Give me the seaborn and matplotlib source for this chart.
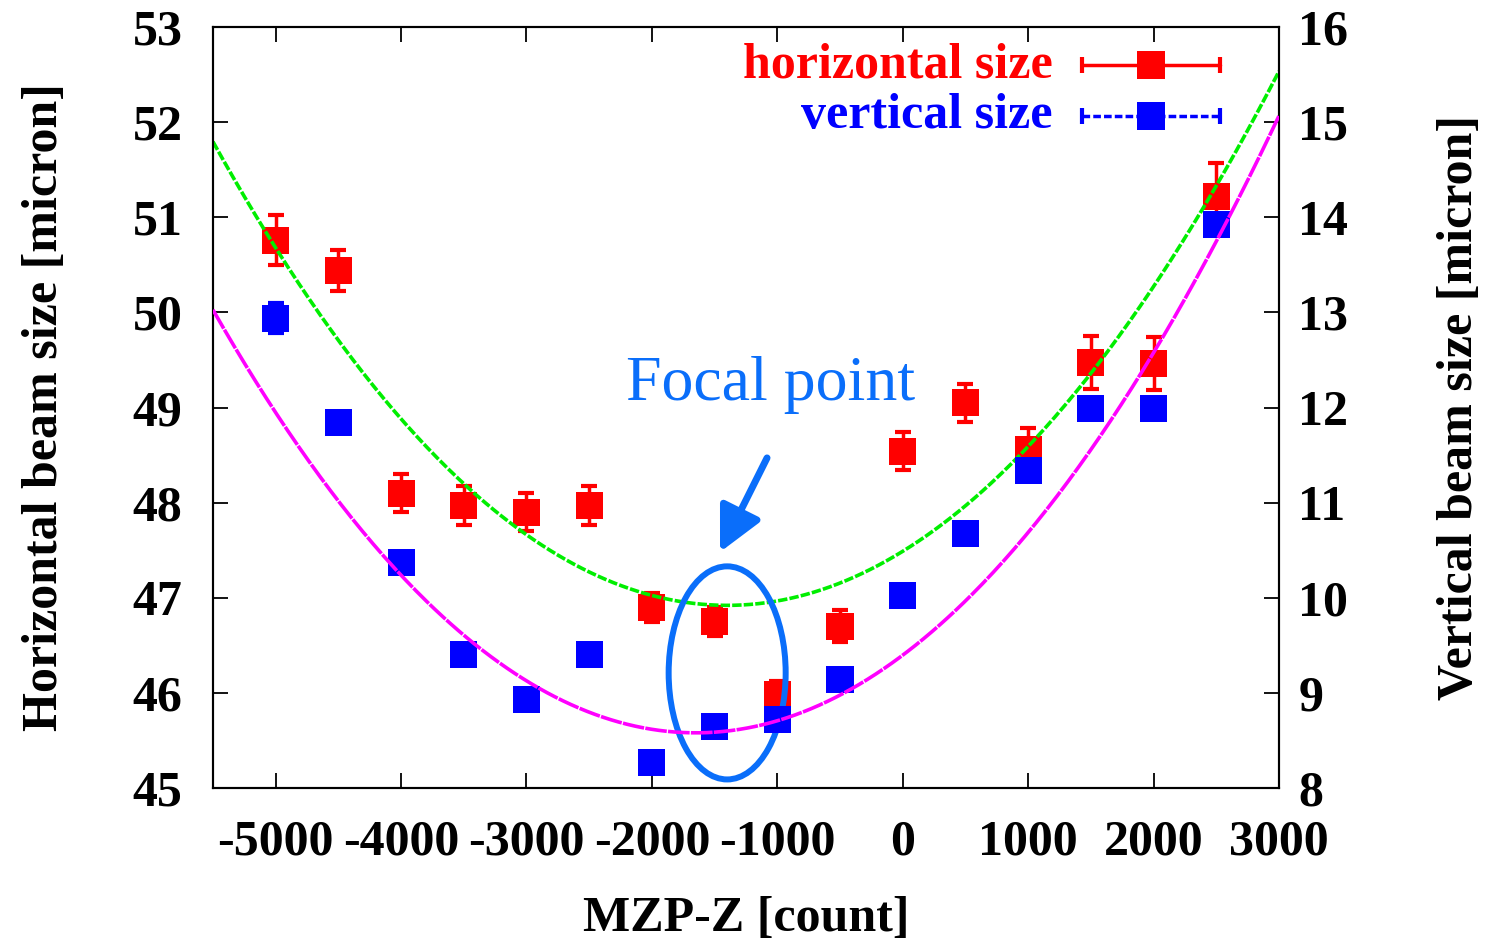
import numpy as np
import pandas as pd
import matplotlib
matplotlib.use("Agg")
import matplotlib.pyplot as plt
import seaborn as sns
from matplotlib.patches import Ellipse

# ---- data ----
mzp_z = [-5000, -4500, -4000, -3500, -3000, -2500, -2000, -1500,
         -1000, -500, 0, 500, 1000, 1500, 2000, 2500]
h_size = [50.76, 50.44, 48.10, 47.97, 47.90, 47.97, 46.90, 46.75,
          45.98, 46.70, 48.54, 49.05, 48.56, 49.47, 49.46, 51.22]
h_err = [0.26, 0.22, 0.20, 0.20, 0.20, 0.20, 0.15, 0.15,
         0.15, 0.17, 0.20, 0.20, 0.22, 0.28, 0.28, 0.35]
v_size = [12.94, 11.84, 10.37, 9.40, 8.93, 9.40, 8.27, 8.65,
          8.72, 9.14, 10.02, 10.68, 11.34, 11.99, 11.99, 13.92]
v_err = [0.16, 0.05, 0.05, 0.05, 0.05, 0.05, 0.05, 0.05,
         0.05, 0.05, 0.05, 0.05, 0.05, 0.05, 0.05, 0.05]

# parabolic fit parameters (vertex position, minimum size, curvature)
h_fit_center, h_fit_min, h_fit_curv = -1400.0, 46.92, 2.9e-7
v_fit_center, v_fit_min, v_fit_curv = -1650.0, 8.58, 3.0e-7

x_ticks = [-5000, -4000, -3000, -2000, -1000, 0, 1000, 2000, 3000]
h_ticks = [45, 46, 47, 48, 49, 50, 51, 52, 53]
v_ticks = [8, 9, 10, 11, 12, 13, 14, 15, 16]

focal_center = (-1400, 46.21)
focal_size = (933, 2.24)

# ---- style ----
sns.set_theme(style="ticks")
plt.rcParams["font.family"] = ["Liberation Serif", "DejaVu Serif"]
plt.rcParams["font.weight"] = "bold"
plt.rcParams["axes.linewidth"] = 1.5
for k in ("text.color", "axes.labelcolor", "xtick.color", "ytick.color",
          "axes.edgecolor"):
    plt.rcParams[k] = "black"

RED = "#FF0000"
BLUE = "#0000FF"
GREEN = "#00EE00"
MAGENTA = "#FF00FF"
FOCAL = "#0A6EFA"
FS = 36

fig = plt.figure(figsize=(14.86, 9.41), dpi=100)
ax = fig.add_axes([0.1433, 0.1626, 0.7174, 0.8087])
ax2 = ax.twinx()

df = pd.DataFrame({"z": mzp_z, "h": h_size, "herr": h_err,
                   "v": v_size, "verr": v_err})

xs = np.linspace(-5500, 3000, 400)
fit_df = pd.DataFrame({
    "z": xs,
    "h": h_fit_min + h_fit_curv * (xs - h_fit_center) ** 2,
    "v": v_fit_min + v_fit_curv * (xs - v_fit_center) ** 2,
})

# horizontal size (left axis)
ax.errorbar(df["z"], df["h"], yerr=df["herr"], fmt="none", ecolor=RED,
            elinewidth=2.5, capsize=6, capthick=3, zorder=2)
sns.scatterplot(data=df, x="z", y="h", marker="s", s=19.5 ** 2, color=RED,
                edgecolor="none", linewidth=0, ax=ax, zorder=3, legend=False)
sns.lineplot(data=fit_df, x="z", y="h", color=GREEN, lw=2.6, ax=ax,
             zorder=4, legend=False)
ax.lines[-1].set_dashes((2.6, 0.6))

# vertical size (right axis)
ax2.errorbar(df["z"], df["v"], yerr=df["verr"], fmt="none", ecolor=BLUE,
             elinewidth=2.5, capsize=6, capthick=3, zorder=2)
sns.scatterplot(data=df, x="z", y="v", marker="s", s=19.5 ** 2, color=BLUE,
                edgecolor="none", linewidth=0, ax=ax2, zorder=3, legend=False)
sns.lineplot(data=fit_df, x="z", y="v", color=MAGENTA, lw=2.6, ax=ax2,
             zorder=4, legend=False)
ax2.lines[-1].set_dashes((6, 0.35))

# axes ranges and ticks
ax.set_xlim(-5500, 3000)
ax.set_ylim(45, 53)
ax2.set_ylim(8, 16)
ax.set_xticks(x_ticks)
ax.set_yticks(h_ticks)
ax2.set_yticks(v_ticks)
ax.set_xticklabels([str(t) for t in x_ticks], fontsize=FS, fontweight="bold")
ax.set_yticklabels([str(t) for t in h_ticks], fontsize=FS, fontweight="bold")
ax2.set_yticklabels([str(t) for t in v_ticks], fontsize=FS, fontweight="bold")
ax.tick_params(axis="x", direction="in", length=11, width=1.3, top=True,
               pad=23, colors="black")
ax.tick_params(axis="y", direction="in", length=11, width=1.3, right=False,
               pad=22, colors="black")
ax2.tick_params(axis="y", direction="in", length=11, width=1.3, pad=14,
                colors="black")
for a in (ax, ax2):
    for s in a.spines.values():
        s.set_visible(True)
        s.set_linewidth(1.5)
        s.set_color("black")

ax.set_xlabel("MZP-Z [count]", fontsize=FS, fontweight="bold", labelpad=22)
ax.set_ylabel("Horizontal beam size [micron]", fontsize=FS,
              fontweight="bold", labelpad=46)
ax2.set_ylabel("Vertical beam size [micron]", fontsize=FS,
               fontweight="bold", labelpad=64)

# focal point annotation
ax.add_patch(Ellipse(focal_center, focal_size[0], focal_size[1], fill=False,
                     edgecolor=FOCAL, lw=4.3, zorder=6))
ax.annotate("", xy=(-1457, 47.48), xytext=(-1082, 48.47),
            arrowprops=dict(arrowstyle="-|>,head_length=0.9,head_width=0.45",
                            lw=5, color=FOCAL, shrinkA=0, shrinkB=0,
                            mutation_scale=30), zorder=6)
ax.text(-1050, 49.24, "Focal point", color=FOCAL, fontsize=46,
        fontweight="normal", ha="center", va="center", zorder=6)

# legend (gnuplot style key)
ky_h, ky_v = 0.950, 0.883
kx_text, kx0, kx1, kx_sq = 0.788, 0.815, 0.9447, 0.880
ax2.text(kx_text, ky_h, "horizontal size", transform=ax2.transAxes,
         color=RED, fontsize=FS, fontweight="bold", ha="right", va="center")
ax2.text(kx_text, ky_v, "vertical size", transform=ax2.transAxes,
         color=BLUE, fontsize=FS, fontweight="bold", ha="right", va="center")
ax2.plot([kx0, kx1], [ky_h, ky_h], transform=ax2.transAxes,
         color=RED, lw=2.5, marker="|", markersize=12, markeredgewidth=3,
         clip_on=False)
ax2.plot([kx_sq], [ky_h], transform=ax2.transAxes, color=RED,
         marker="s", markersize=19.5, markeredgewidth=0, clip_on=False)
ax2.plot([kx0, kx1], [ky_v, ky_v], transform=ax2.transAxes,
         color=BLUE, lw=2.5, dashes=(2.2, 0.9), marker="|", markersize=12,
         markeredgewidth=3, clip_on=False)
ax2.plot([kx_sq], [ky_v], transform=ax2.transAxes, color=BLUE,
         marker="s", markersize=19.5, markeredgewidth=0, clip_on=False)

fig.savefig("out.png", dpi=100)
